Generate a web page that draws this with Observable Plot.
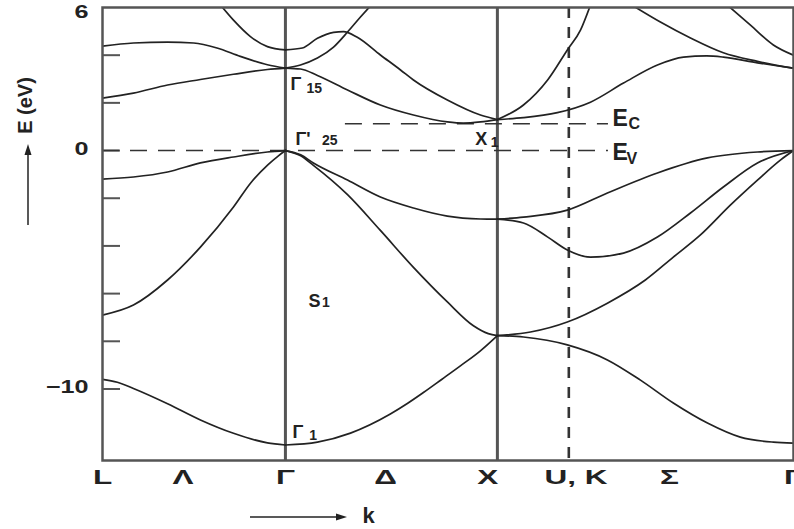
<!DOCTYPE html>
<html><head><meta charset="utf-8">
<script src="https://cdn.jsdelivr.net/npm/d3@7"></script>
<script src="https://cdn.jsdelivr.net/npm/@observablehq/plot@0.6"></script>
<style>
html,body{margin:0;padding:0;background:#fff;}
#chart svg{display:block;}
</style></head><body><div id="chart"></div>
<script>
// High-symmetry points along the k path (L – Γ – X – U,K – Γ)
const kL = 0, kG = 0.863, kX = 1.863, kK = 2.2, kG2 = 3.26;

// Bottom labels
const kLabelPos = [0, 0.38, 0.863, 1.335, 1.818, 2.234, 2.675, 3.26];
const kLabelTxt = ["L", "Λ", "Γ", "Δ", "X", "U, K", "Σ", "Γ"];

// Energy axis
const yTickVals = [4, 2, 0, -2, -4, -6, -8, -10];
const yTopLabel = [6];
const yLabelVals = [0, -10];

// Bands: [k, E(eV)]
// L – Γ
const lgA = [[0,-9.6],[0.07,-9.72],[0.146,-9.98],[0.307,-10.62],[0.462,-11.3],[0.618,-11.86],[0.778,-12.26],[0.863,-12.35]];
const lgB = [[0,-6.9],[0.146,-6.48],[0.307,-5.43],[0.462,-4.05],[0.618,-2.37],[0.70,-1.35],[0.78,-0.6],[0.83,-0.22],[0.863,0]];
const lgC = [[0,-1.2],[0.146,-1.11],[0.307,-0.9],[0.462,-0.52],[0.618,-0.27],[0.778,-0.06],[0.863,0]];
const lgD = [[0,2.2],[0.146,2.41],[0.307,2.75],[0.462,2.98],[0.618,3.2],[0.778,3.4],[0.863,3.46]];
const lgE = [[0,4.38],[0.146,4.51],[0.307,4.55],[0.43,4.51],[0.54,4.3],[0.65,3.95],[0.778,3.6],[0.863,3.46]];
const lgF = [[0.557,6.1],[0.618,5.47],[0.698,4.78],[0.778,4.36],[0.863,4.22]];
// Γ – X
const gxG = [[0.863,-12.35],[1.014,-12.23],[1.17,-11.85],[1.358,-11.05],[1.44,-10.6],[1.514,-10.15],[1.6,-9.6],[1.69,-9.02],[1.78,-8.42],[1.863,-7.76]];
const gxH = [[0.863,0],[0.935,-0.22],[0.995,-0.62],[1.156,-1.85],[1.311,-3.35],[1.467,-4.9],[1.627,-6.35],[1.75,-7.35],[1.82,-7.68],[1.863,-7.76]];
const gxI = [[0.863,0],[0.935,-0.18],[0.995,-0.52],[1.156,-1.24],[1.311,-1.95],[1.467,-2.41],[1.627,-2.75],[1.783,-2.87],[1.863,-2.88]];
const gxJ = [[0.863,4.22],[0.943,4.3],[1.014,4.71],[1.09,4.96],[1.137,4.99],[1.2,4.76],[1.311,4.01],[1.406,3.38],[1.467,2.96],[1.627,2.12],[1.783,1.49],[1.863,1.3]];
const gxK = [[0.863,3.46],[0.934,3.59],[1.014,3.88],[1.09,4.34],[1.156,4.97],[1.217,5.6],[1.264,6.06]];
const gxL = [[0.863,3.46],[0.934,3.42],[1.014,3.15],[1.156,2.54],[1.311,1.91],[1.467,1.49],[1.627,1.2],[1.703,1.15],[1.783,1.2],[1.863,1.3]];
// X – U,K – Γ
const xgA = [[1.863,1.3],[1.986,1.91],[2.1,2.96],[2.193,4.22],[2.255,5.05],[2.302,6.1]];
const xgB = [[1.863,1.3],[1.986,1.38],[2.146,1.59],[2.302,2.03],[2.458,2.83],[2.618,3.59],[2.741,3.92],[2.85,3.97],[2.929,3.92],[3.09,3.68],[3.26,3.45]];
const xgC = [[2.505,6.06],[2.632,5.39],[2.774,4.72],[2.929,4.1],[3.09,3.74],[3.26,3.45]];
const xgD = [[2.948,6.1],[3.057,5.26],[3.165,4.43],[3.26,4.0]];
const xgE = [[1.863,-2.88],[1.986,-2.79],[2.193,-2.5],[2.382,-1.78],[2.618,-0.94],[2.854,-0.31],[3.09,-0.06],[3.26,0]];
const xgF = [[1.863,-2.88],[1.986,-3.04],[2.099,-3.62],[2.193,-4.17],[2.302,-4.47],[2.458,-4.3],[2.618,-3.63],[2.774,-2.62],[2.929,-1.53],[3.09,-0.52],[3.26,0]];
const xgG = [[1.863,-7.76],[2.019,-7.61],[2.193,-7.19],[2.382,-6.4],[2.561,-5.43],[2.693,-4.47],[2.821,-3.54],[2.962,-2.29],[3.09,-1.24],[3.198,-0.4],[3.26,0]];
const xgH = [[1.863,-7.76],[1.986,-7.82],[2.193,-8.15],[2.382,-8.78],[2.538,-9.63],[2.693,-10.59],[2.854,-11.43],[3.009,-12.02],[3.165,-12.23],[3.26,-12.27]];

// Band-edge levels (dashed)
const levelNames = ["Ec", "Ev"];
const levelE = [1.12, 0];
const levelK1 = [1.146, 0];
const levelK2 = [2.387, 2.387];

// Point labels (main letter + subscript)
const mainText = ["Γ", "Γ'", "X", "S", "Γ"];
const mainK = [0.887, 0.910, 1.759, 0.972, 0.896];
const mainE = [2.80, 0.47, 0.49, -6.30, -11.80];
const subText = ["15", "25", "1", "1", "1"];
const subK = [0.962, 1.035, 1.832, 1.036, 0.975];
const subE = [2.61, 0.41, 0.35, -6.38, -11.94];
const levText = ["E", "E"];
const levTextK = [2.406, 2.406];
const levTextE = [1.33, -0.09];
const levSub = ["C", "V"];
const levSubK = [2.481, 2.472];
const levSubE = [1.10, -0.36];

const bandSets = {lgA, lgB, lgC, lgD, lgE, lgF, gxG, gxH, gxI, gxJ, gxK, gxL, xgA, xgB, xgC, xgD, xgE, xgF, xgG, xgH};
const rows = Object.entries(bandSets).flatMap(([band, pts]) => pts.map(([k, E]) => ({band, k, E})));
const levels = levelNames.map((name, i) => ({name, E: levelE[i], k1: levelK1[i], k2: levelK2[i]}));
const labelMap = new Map(kLabelPos.map((k, i) => [k, kLabelTxt[i]]));

const W = 794, H = 529, mL = 102, mR = 1, mT = 7, mB = 69;
const font = "'Liberation Sans', Arial, Helvetica, sans-serif";

const plot = Plot.plot({
  width: W, height: H,
  marginLeft: mL, marginRight: mR, marginTop: mT, marginBottom: mB,
  style: {fontFamily: font, background: "#fff", color: "#222"},
  x: {domain: [kL, kG2], label: null},
  y: {domain: [-13, 6], label: null},
  marks: [
    Plot.tickY(yTickVals, {y: d => d, stroke: "#555", strokeWidth: 2, insetRight: (W - mL - mR) - 18}),
    Plot.ruleX([kG, kX], {stroke: "#555", strokeWidth: 3}),
    Plot.ruleX([kK], {stroke: "#333", strokeWidth: 2.6, strokeDasharray: "11,9"}),
    Plot.ruleY(levels, {y: "E", x1: "k1", x2: "k2", stroke: "#333", strokeWidth: 1.5, strokeDasharray: "17,11"}),
    Plot.line(rows, {x: "k", y: "E", z: "band", curve: "monotone-x", stroke: "#222", strokeWidth: 1.7, clip: true}),
    Plot.frame({stroke: "#555", strokeWidth: 2.5}),
    Plot.axisX({ticks: kLabelPos, tickFormat: d => labelMap.get(d), tickSize: 0, tickPadding: 9, fontSize: 21, fontWeight: "bold", anchor: "bottom", label: null}),
    Plot.axisY({ticks: yTopLabel, tickSize: 0, tickPadding: 14, fontSize: 18, fontWeight: "bold", anchor: "left", lineAnchor: "top", dy: -2, label: null}),
    Plot.axisY({ticks: yLabelVals, tickSize: 0, tickPadding: 14, fontSize: 18, fontWeight: "bold", anchor: "left", dy: -1.5, label: null}),
    Plot.text(mainText, {x: mainK, y: mainE, text: d => d, textAnchor: "start", lineAnchor: "middle", fontSize: 18, fontWeight: "bold", fill: "#222", ariaLabel: "pt-main"}),
    Plot.text(subText, {x: subK, y: subE, text: d => d, textAnchor: "start", lineAnchor: "middle", fontSize: 14, fontWeight: "bold", fill: "#222", ariaLabel: "pt-sub"}),
    Plot.text(levText, {x: levTextK, y: levTextE, text: d => d, textAnchor: "start", lineAnchor: "middle", fontSize: 23, fontWeight: "bold", fill: "#222", ariaLabel: "lev-main"}),
    Plot.text(levSub, {x: levSubK, y: levSubE, text: d => d, textAnchor: "start", lineAnchor: "middle", fontSize: 16, fontWeight: "bold", fill: "#222", ariaLabel: "lev-sub"}),
    Plot.text(["E (eV)"], {frameAnchor: "top-left", dx: -77, dy: 98, rotate: -90, textAnchor: "middle", lineAnchor: "middle", fontSize: 20, fontWeight: "bold", fill: "#222", ariaLabel: "y-title"}),
    Plot.text(["k"], {frameAnchor: "bottom-left", dx: 260, dy: 55, textAnchor: "start", lineAnchor: "middle", fontSize: 22, fontWeight: "bold", fill: "#222", ariaLabel: "x-title"})
  ]
});

// The reference's lettering is horizontally stretched; mimic it.
function stretch(sel, sx) {
  plot.querySelectorAll(sel).forEach(t => {
    const tr = t.getAttribute("transform") || "";
    if (tr.includes("rotate")) t.setAttribute("transform", tr.replace("rotate", `scale(${sx},1) rotate`));
    else t.setAttribute("transform", `${tr} scale(${sx},1)`);
  });
}
stretch('g[aria-label="x-axis tick label"] text', 1.5);
stretch('g[aria-label="y-axis tick label"] text', 1.4);
stretch('g[aria-label="pt-main"] text', 1.25);
stretch('g[aria-label="pt-sub"] text', 1.25);
stretch('g[aria-label="lev-sub"] text', 1.1);
stretch('g[aria-label="y-title"] text', 1.5);
stretch('g[aria-label="x-title"] text', 1.2);

// Arrows beside the axis titles
const svg = d3.select(plot);
const arr = svg.append("g").attr("fill", "#222").attr("stroke", "#222");
const ax0 = mL + 148, ax1 = mL + 245, ay = H - 12;
arr.append("line").attr("x1", ax0).attr("x2", ax1 - 8).attr("y1", ay).attr("y2", ay).attr("stroke-width", 1.5);
arr.append("path").attr("d", `M${ax1},${ay} L${ax1 - 11},${ay - 3.5} L${ax1 - 11},${ay + 3.5} Z`).attr("stroke", "none");
const vx = 28, vy0 = 225, vy1 = 144;
arr.append("line").attr("x1", vx).attr("x2", vx).attr("y1", vy0).attr("y2", vy1 + 8).attr("stroke-width", 1.5);
arr.append("path").attr("d", `M${vx},${vy1} L${vx - 3.5},${vy1 + 11} L${vx + 3.5},${vy1 + 11} Z`).attr("stroke", "none");

document.getElementById("chart").appendChild(plot);
</script>
</body></html>
